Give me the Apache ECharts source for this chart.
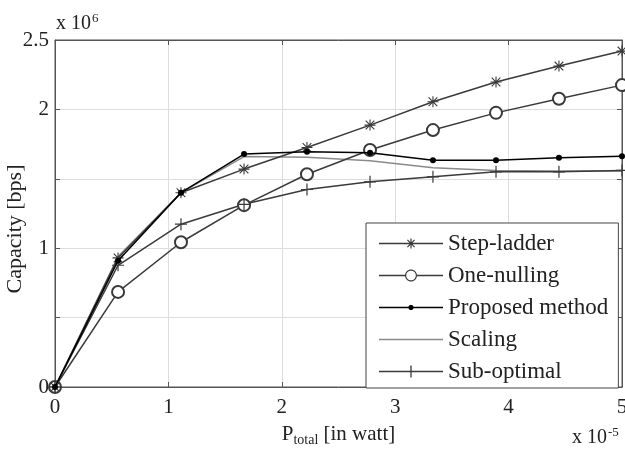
<!DOCTYPE html>
<html>
<head>
<meta charset="utf-8">
<style type="text/css">
html,body{margin:0;padding:0;background:#fff}
#chart{width:625px;height:450px}
</style>
<script src="https://cdn.jsdelivr.net/npm/echarts@6/dist/echarts.min.js"></script>
</head>
<body>
<div id="chart"></div>
<script type="text/javascript">
// x in units of 1e-5 W, y in units of 1e6 bps
var power = [0, 0.556, 1.111, 1.667, 2.222, 2.778, 3.333, 3.889, 4.444, 5];
var stepLadder = [0, 0.93, 1.40, 1.57, 1.725, 1.887, 2.055, 2.197, 2.312, 2.42];
var oneNulling = [0, 0.685, 1.043, 1.31, 1.533, 1.707, 1.851, 1.975, 2.077, 2.175];
var proposed = [0, 0.91, 1.40, 1.678, 1.694, 1.687, 1.634, 1.634, 1.651, 1.663];
var scaling = [0, 0.94, 1.40, 1.66, 1.655, 1.63, 1.58, 1.56, 1.557, 1.557];
var subOptimal = [0, 0.877, 1.173, 1.316, 1.423, 1.478, 1.514, 1.55, 1.55, 1.56];
var xTicks = [0, 1, 2, 3, 4, 5];
var yTicks = [0, 1, 2, 2.5];
var names = ['Step-ladder', 'One-nulling', 'Proposed method', 'Scaling', 'Sub-optimal'];

var star = 'path://M0 9 L20 9 L20 11 L0 11 Z M9 0 L11 0 L11 20 L9 20 Z M1.4 2.8 L2.8 1.4 L18.6 17.2 L17.2 18.6 Z M17.2 1.4 L18.6 2.8 L2.8 18.6 L1.4 17.2 Z';
var plus = 'path://M0 9 L20 9 L20 11 L0 11 Z M9 0 L11 0 L11 20 L9 20 Z';

function pairs(ys){
    var out = [];
    for (var i = 0; i < power.length; i++) out.push([power[i], ys[i]]);
    return out;
}

// polygon -> path piece, forced to one winding (cw=true) or the other
function poly(pts, cw){
    var a = 0;
    for (var i = 0; i < pts.length; i++) {
        var p = pts[i], q = pts[(i + 1) % pts.length];
        a += p[0] * q[1] - q[0] * p[1];
    }
    if ((a > 0) !== cw) pts = pts.slice().reverse();
    var s = 'M' + pts[0][0].toFixed(2) + ' ' + pts[0][1].toFixed(2);
    for (var j = 1; j < pts.length; j++) s += ' L' + pts[j][0].toFixed(2) + ' ' + pts[j][1].toFixed(2);
    return s + ' Z ';
}
function bar(x1, y1, x2, y2, w){
    var dx = x2 - x1, dy = y2 - y1, l = Math.sqrt(dx * dx + dy * dy);
    var nx = -dy / l * w / 2, ny = dx / l * w / 2;
    return poly([[x1 + nx, y1 + ny], [x2 + nx, y2 + ny], [x2 - nx, y2 - ny], [x1 - nx, y1 - ny]], true);
}
function disc(cx, cy, r, cw){
    var pts = [];
    for (var i = 0; i < 32; i++) {
        var t = i / 32 * Math.PI * 2;
        pts.push([cx + r * Math.cos(t), cy + r * Math.sin(t)]);
    }
    return poly(pts, cw);
}
// legend icons: 64x12 box, line plus marker
var IW = 64, IH = 12, CX = 32, CY = 6;
function legendIcon(kind){
    var s = 'M0 0 M' + IW + ' ' + IH + ' ';
    if (kind === 'ring') {
        s += bar(0, CY, CX - 6, CY, 1.5) + bar(CX + 6, CY, IW, CY, 1.5);
        s += disc(CX, CY, 6, true) + disc(CX, CY, 4.8, false);
    } else {
        s += bar(0, CY, IW, CY, 1.5);
        if (kind === 'star') {
            s += bar(CX, CY - 5, CX, CY + 5, 1.2);
            s += bar(CX - 3.6, CY - 3.6, CX + 3.6, CY + 3.6, 1.2);
            s += bar(CX + 3.6, CY - 3.6, CX - 3.6, CY + 3.6, 1.2);
        } else if (kind === 'dot') {
            s += disc(CX, CY, 2.6, true);
        } else if (kind === 'plus') {
            s += bar(CX, 0, CX, IH, 1.3);
        }
    }
    return 'path://' + s;
}

var font = 'Liberation Serif';
var dark = '#3a3a3a';

function mkLine(name, ys, color, symbol, size, z){
    return {
        name: name,
        type: 'line',
        data: pairs(ys),
        symbol: symbol,
        symbolSize: size,
        showSymbol: symbol !== 'none',
        clip: false,
        z: z,
        lineStyle: {color: color, width: 1.5},
        itemStyle: {color: color, borderColor: color, borderWidth: 0},
        emphasis: {disabled: true}
    };
}

function frameAxis(pos, max, interval){
    return {
        type: 'value', min: 0, max: max, interval: interval, position: pos,
        axisLine: {show: true, onZero: false, lineStyle: {color: '#555'}},
        axisTick: {show: true, inside: true, length: 5, lineStyle: {color: '#555'}},
        axisLabel: {show: false}, splitLine: {show: false}
    };
}

var chart = echarts.init(document.getElementById('chart'));
var option = {
    animation: false,
    grid: {left: 55, right: 3, top: 40, bottom: 63, containLabel: false, outerBoundsMode: 'none',
        show: true, borderColor: '#555', borderWidth: 1, backgroundColor: '#fff'},
    xAxis: [{
        type: 'value', min: 0, max: 5, interval: 1, position: 'bottom',
        axisLine: {show: true, onZero: false, lineStyle: {color: '#555'}},
        axisTick: {show: true, inside: true, length: 5, lineStyle: {color: '#555'}},
        axisLabel: {color: '#222', fontFamily: font, fontSize: 21, margin: 10,
            formatter: function(v){ return xTicks.indexOf(v) >= 0 ? String(v) : ''; }},
        splitLine: {show: true, lineStyle: {color: '#ddd', width: 1}},
        name: '{p|P}{s|total} [in watt]',
        nameLocation: 'middle',
        nameGap: 34,
        nameMoveOverlap: false,
        nameTextStyle: {
            fontFamily: font, fontSize: 21, color: '#222',
            rich: {
                p: {fontFamily: font, fontSize: 21, color: '#222'},
                s: {fontFamily: font, fontSize: 14, color: '#222', verticalAlign: 'bottom', padding: [12, 0, 0, 0]}
            }
        }
    }, frameAxis('top', 5, 1)],
    yAxis: [{
        type: 'value', min: 0, max: 2.5, interval: 0.5, position: 'left',
        axisLine: {show: true, onZero: false, lineStyle: {color: '#555'}},
        axisTick: {show: true, inside: true, length: 5, lineStyle: {color: '#555'}},
        axisLabel: {color: '#222', fontFamily: font, fontSize: 21, margin: 6,
            formatter: function(v){ return yTicks.indexOf(v) >= 0 ? String(v) : ''; }},
        splitLine: {show: true, lineStyle: {color: '#ddd', width: 1}}
    }, frameAxis('right', 2.5, 0.5)],
    legend: {
        orient: 'vertical',
        left: 366, top: 223,
        padding: [9, 10, 5, 13],
        itemGap: 9,
        itemWidth: IW,
        itemHeight: IH,
        symbolKeepAspect: false,
        backgroundColor: '#fff',
        borderColor: '#444',
        borderWidth: 1,
        borderRadius: 0,
        textStyle: {fontFamily: font, fontSize: 23, color: '#222', lineHeight: 22},
        data: [
            {name: names[0], icon: legendIcon('star')},
            {name: names[1], icon: legendIcon('ring')},
            {name: names[2], icon: legendIcon('dot')},
            {name: names[3], icon: legendIcon('line')},
            {name: names[4], icon: legendIcon('plus')}
        ]
    },
    graphic: [{
        type: 'text', x: 15, y: 229, rotation: Math.PI / 2,
        style: {text: 'Capacity [bps]', fontFamily: font, fontSize: 22, fill: '#222', align: 'center', verticalAlign: 'middle'}
    }, {
        type: 'text', left: 56, top: 12,
        style: {
            text: '{a|x 10}{b|6}',
            rich: {
                a: {fontFamily: font, fontSize: 20, fill: '#222'},
                b: {fontFamily: font, fontSize: 13, fill: '#222', verticalAlign: 'top', padding: [0, 0, 10, 1]}
            }
        }
    }, {
        type: 'text', left: 572, top: 426,
        style: {
            text: '{a|x 10}{b|-5}',
            rich: {
                a: {fontFamily: font, fontSize: 20, fill: '#222'},
                b: {fontFamily: font, fontSize: 13, fill: '#222', verticalAlign: 'top', padding: [0, 0, 10, 1]}
            }
        }
    }],
    series: [
        mkLine(names[0], stepLadder, dark, star, 11, 5),
        mkLine(names[1], oneNulling, dark, 'emptyCircle', 12, 4),
        mkLine(names[2], proposed, '#000', 'circle', 6, 6),
        mkLine(names[3], scaling, '#8a8a8a', 'none', 0, 3),
        mkLine(names[4], subOptimal, dark, plus, 12, 4)
    ]
};
chart.setOption(option);
</script>
</body>
</html>
